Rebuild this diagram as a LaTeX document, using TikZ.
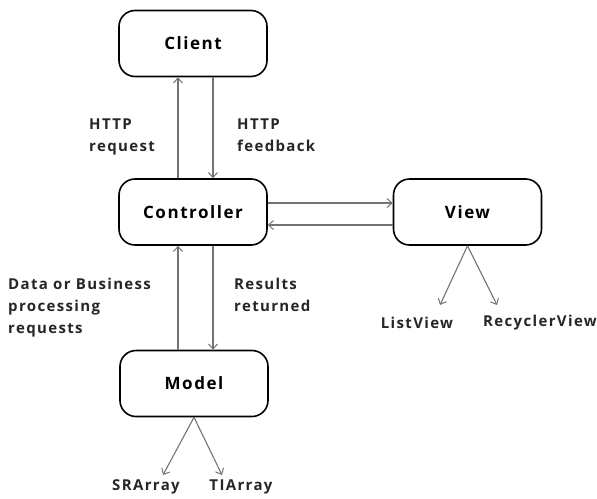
\documentclass[tikz,border=0pt]{standalone}
\usepackage{fontspec}
\setmainfont[LetterSpace=9]{Open Sans}
\usetikzlibrary{arrows.meta}
\begin{document}
\begin{tikzpicture}[x=1pt,y=-1pt,
  box/.style={draw=black,line width=1.6pt,rounded corners=16pt,minimum width=148pt,minimum height=66pt,font=\fontsize{17}{20}\selectfont\bfseries,inner sep=0pt},
  conn/.style={draw=black!55,line width=1.1pt,-{Straight Barb[length=5pt,width=9pt,line width=1pt]}},
  lbl/.style={font=\fontsize{15}{22}\selectfont\bfseries,text=black!85,align=left,inner sep=0pt},
  leaf/.style={font=\fontsize{15}{18}\selectfont\bfseries,text=black!85,inner sep=0pt}]
\useasboundingbox (0,0) rectangle (597,498);
\node[box] (client) at (193,43.5) {Client};
\node[box] (ctrl) at (193,212) {Controller};
\node[box] (view) at (467.5,212) {View};
\node[box] (model) at (194,383.5) {Model};
% vertical arrows
\draw[conn] (ctrl.north -| 178,0) -- (client.south -| 178,0);
\draw[conn] (client.south -| 213,0) -- (ctrl.north -| 213,0);
\draw[conn] (model.north -| 178,0) -- (ctrl.south -| 178,0);
\draw[conn] (ctrl.south -| 213,0) -- (model.north -| 213,0);
% horizontal
\draw[conn] (ctrl.east |- 0,203) -- (view.west |- 0,203);
\draw[conn] (view.west |- 0,225) -- (ctrl.east |- 0,225);
% leaves
\node[leaf] (lv) at (417,323) {ListView};
\node[leaf] (rv) at (540,323) {RecyclerView};
\node[leaf] (sr) at (146,487) {SRArray};
\node[leaf] (ti) at (241,487) {TIArray};
\draw[conn] (view.south) -- (440,305);
\draw[conn] (view.south) -- (497,305);
\draw[conn] (model.south) -- (163,475);
\draw[conn] (model.south) -- (222,475);
% labels
\node[lbl,anchor=north west] (l1) at (89,119) {HTTP\\request};
\node[lbl,anchor=north west] (l2) at (237,119) {HTTP\\feedback};
\node[lbl,anchor=north west] (l3) at (8,278) {Data or Business\\processing\\requests};
\node[lbl,anchor=north west] (l4) at (234,278) {Results\\returned};
\end{tikzpicture}
\end{document}
